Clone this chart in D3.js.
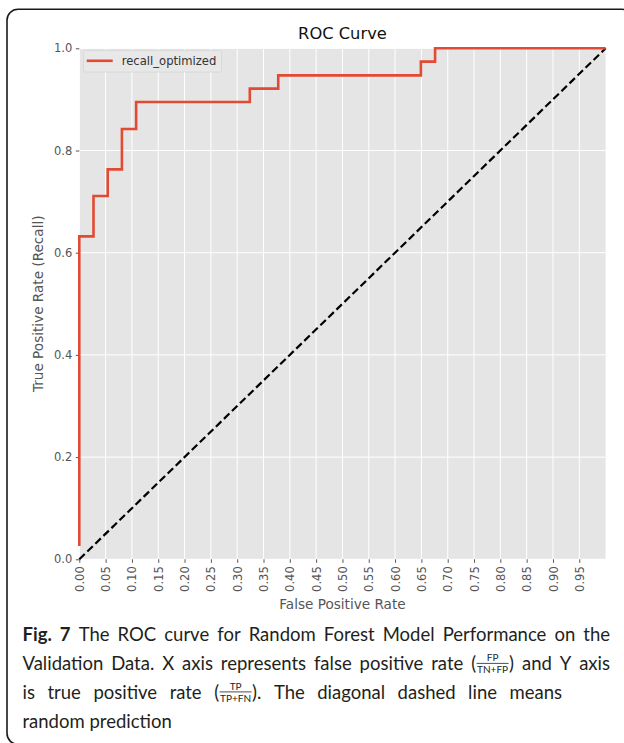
<!DOCTYPE html>
<html>
<head>
<meta charset="utf-8">
<script src="https://cdn.jsdelivr.net/npm/d3@7"></script>
<style>
  html, body { margin: 0; padding: 0; background: #fff; }
  svg { display: block; }
</style>
</head>
<body>
<svg id="chart" width="624" height="743"></svg>
<script>
// ---------- data ----------
const seriesName = "recall_optimized";
const fpr = [0.000, 0.000, 0.027, 0.027, 0.054, 0.054, 0.081, 0.081, 0.108, 0.108, 0.324, 0.324, 0.378, 0.378, 0.649, 0.649, 0.676, 0.676, 1.000];
const tpr = [0.026, 0.632, 0.632, 0.711, 0.711, 0.763, 0.763, 0.842, 0.842, 0.895, 0.895, 0.921, 0.921, 0.947, 0.947, 0.974, 0.974, 1.000, 1.000];
const diagX = [0, 1];
const diagY = [0, 1];
const xTickValues = [0.00, 0.05, 0.10, 0.15, 0.20, 0.25, 0.30, 0.35, 0.40, 0.45, 0.50, 0.55, 0.60, 0.65, 0.70, 0.75, 0.80, 0.85, 0.90, 0.95];
const yTickValues = [0.0, 0.2, 0.4, 0.6, 0.8, 1.0];
const titleText = "ROC Curve";
const xLabelText = "False Positive Rate";
const yLabelText = "True Positive Rate (Recall)";

// caption: lines of words; each word is a list of pieces
const captionLines = [
  [[{t:"Fig.",b:1}],[{t:"7",b:1}],[{t:"The"}],[{t:"ROC"}],[{t:"curve"}],[{t:"for"}],[{t:"Random"}],[{t:"Forest"}],[{t:"Model"}],[{t:"Performance"}],[{t:"on"}],[{t:"the"}]],
  [[{t:"Validation"}],[{t:"Data."}],[{t:"X"}],[{t:"axis"}],[{t:"represents"}],[{t:"false"}],[{t:"positive"}],[{t:"rate"}],[{t:"("},{num:"FP",den:"TN+FP"},{t:")"}],[{t:"and"}],[{t:"Y"}],[{t:"axis"}]],
  [[{t:"is"}],[{t:"true"}],[{t:"positive"}],[{t:"rate"}],[{t:"("},{num:"TP",den:"TP+FN"},{t:")."}],[{t:"The"}],[{t:"diagonal"}],[{t:"dashed"}],[{t:"line"}],[{t:"means"}]],
  [[{t:"random"}],[{t:"prediction"}]]
];
const captionJustify = [true, true, true, false];

// ---------- layout ----------
const plot = {left: 79.3, right: 605.6, top: 48.3, bottom: 559.3};
const svg = d3.select("#chart");

// outer rounded frame
svg.append("rect")
  .attr("x", 7).attr("y", 9.3).attr("width", 626).attr("height", 735)
  .attr("rx", 11).attr("ry", 11)
  .attr("fill", "none").attr("stroke", "#1a1a1a").attr("stroke-width", 1.6);

const x = d3.scaleLinear().domain([0, 1]).range([plot.left, plot.right]);
const y = d3.scaleLinear().domain([0, 1]).range([plot.bottom, plot.top]);

// background
svg.append("rect")
  .attr("x", x(0)).attr("y", y(1))
  .attr("width", x(1) - x(0)).attr("height", y(0) - y(1))
  .attr("fill", "#E5E5E5");

// grid
const g = svg.append("g");
g.selectAll("line.vg").data(xTickValues).enter().append("line")
  .attr("x1", d => x(d)).attr("x2", d => x(d))
  .attr("y1", y(0)).attr("y2", y(1))
  .attr("stroke", "#fff").attr("stroke-width", 1);
g.selectAll("line.hg").data(yTickValues).enter().append("line")
  .attr("y1", d => y(d)).attr("y2", d => y(d))
  .attr("x1", x(0)).attr("x2", x(1))
  .attr("stroke", "#fff").attr("stroke-width", 1);

// axes
const fontTick = "'DejaVu Sans', sans-serif";
const xAxis = d3.axisBottom(x).tickValues(xTickValues).tickFormat(d3.format(".2f")).tickSize(3.5).tickPadding(3);
const yAxis = d3.axisLeft(y).tickValues(yTickValues).tickFormat(d3.format(".1f")).tickSize(3.5).tickPadding(3.5);

const gx = svg.append("g").attr("transform", `translate(0,${plot.bottom})`).call(xAxis);
gx.select(".domain").remove();
gx.selectAll(".tick line").attr("stroke", "#555").attr("stroke-width", 1);
gx.selectAll(".tick text")
  .attr("font-family", fontTick).attr("font-size", 11.5).attr("fill", "#555")
  .attr("transform", "rotate(-90)")
  .attr("text-anchor", "end")
  .attr("x", -7).attr("y", 0).attr("dy", "0.35em");

const gy = svg.append("g").attr("transform", `translate(${plot.left},0)`).call(yAxis);
gy.select(".domain").remove();
gy.selectAll(".tick line").attr("stroke", "#555").attr("stroke-width", 1);
gy.selectAll(".tick text")
  .attr("font-family", fontTick).attr("font-size", 11.5).attr("fill", "#555");

// lines
const rocPts = fpr.map((d, i) => [d, tpr[i]]);
const diagPts = diagX.map((d, i) => [d, diagY[i]]);
const line = d3.line().x(d => x(d[0])).y(d => y(d[1]));

svg.append("path").datum(diagPts).attr("d", line)
  .attr("fill", "none").attr("stroke", "#000").attr("stroke-width", 2.2)
  .attr("stroke-dasharray", "7.6,3.6");

svg.append("path").datum(rocPts).attr("d", line)
  .attr("fill", "none").attr("stroke", "#E24A33").attr("stroke-width", 2.6)
  .attr("stroke-linejoin", "miter").attr("stroke-linecap", "butt");

// legend
const leg = svg.append("g");
leg.append("rect").attr("x", 83.5).attr("y", 50.5).attr("width", 138).attr("height", 21.5)
  .attr("rx", 2).attr("fill", "#E8E8E8").attr("stroke", "#d6d6d6").attr("stroke-width", 0.8);
leg.append("line").attr("x1", 86.7).attr("x2", 112.7).attr("y1", 60.8).attr("y2", 60.8)
  .attr("stroke", "#E24A33").attr("stroke-width", 2.6);
leg.append("text").attr("x", 121.7).attr("y", 64.8)
  .attr("font-family", fontTick).attr("font-size", 11.6).attr("fill", "#333")
  .text(seriesName);

// title & labels
svg.append("text").attr("x", (plot.left + plot.right) / 2).attr("y", 39)
  .attr("text-anchor", "middle").attr("font-family", fontTick).attr("font-size", 16.3)
  .attr("fill", "#111").text(titleText);
svg.append("text").attr("x", (plot.left + plot.right) / 2).attr("y", 608.5)
  .attr("text-anchor", "middle").attr("font-family", fontTick).attr("font-size", 13.6)
  .attr("fill", "#555").text(xLabelText);
svg.append("text")
  .attr("transform", `translate(42.5,${(plot.top + plot.bottom) / 2}) rotate(-90)`)
  .attr("text-anchor", "middle").attr("font-family", fontTick).attr("font-size", 13.6)
  .attr("fill", "#555").text(yLabelText);

// ---------- caption ----------
const capFont = "Lato, 'Open Sans', sans-serif";
const capSize = 18.5;
const fracSize = 10;
const capLeft = 22.5;
const capRights = [610, 610, 562, null];
const capBaselines = [641, 670, 698.5, 728];
const capColor = "#231f20";
const cap = svg.append("g");

function measure(text, size, bold) {
  const t = cap.append("text").attr("font-family", capFont).attr("font-size", size)
    .attr("font-weight", bold ? "bold" : "normal").text(text);
  const w = t.node().getComputedTextLength();
  t.remove();
  return w;
}
function pieceWidth(p) {
  if (p.t !== undefined) return measure(p.t, capSize, p.b);
  return Math.max(measure(p.num, fracSize), measure(p.den, fracSize)) + 2;
}
const spaceW = measure("a a", capSize) - measure("aa", capSize);

captionLines.forEach((words, li) => {
  const wordWidths = words.map(w => d3.sum(w, pieceWidth));
  const natural = d3.sum(wordWidths);
  let gap = spaceW;
  if (captionJustify[li] && words.length > 1) {
    gap = (capRights[li] - capLeft - natural) / (words.length - 1);
  }
  let cx = capLeft;
  const by = capBaselines[li];
  words.forEach((w) => {
    w.forEach(p => {
      const pw = pieceWidth(p);
      if (p.t !== undefined) {
        cap.append("text").attr("x", cx).attr("y", by)
          .attr("font-family", capFont).attr("font-size", capSize)
          .attr("font-weight", p.b ? "bold" : "normal")
          .attr("fill", capColor).text(p.t);
      } else {
        const mid = cx + pw / 2;
        cap.append("text").attr("x", mid).attr("y", by - 8.7)
          .attr("text-anchor", "middle").attr("font-family", capFont).attr("font-size", fracSize)
          .attr("fill", capColor).text(p.num);
        cap.append("line").attr("x1", cx + 0.5).attr("x2", cx + pw - 0.5)
          .attr("y1", by - 6.6).attr("y2", by - 6.6)
          .attr("stroke", capColor).attr("stroke-width", 0.8);
        cap.append("text").attr("x", mid).attr("y", by + 3.4)
          .attr("text-anchor", "middle").attr("font-family", capFont).attr("font-size", fracSize)
          .attr("fill", capColor).text(p.den);
      }
      cx += pw;
    });
    cx += gap;
  });
});
</script>
</body>
</html>
